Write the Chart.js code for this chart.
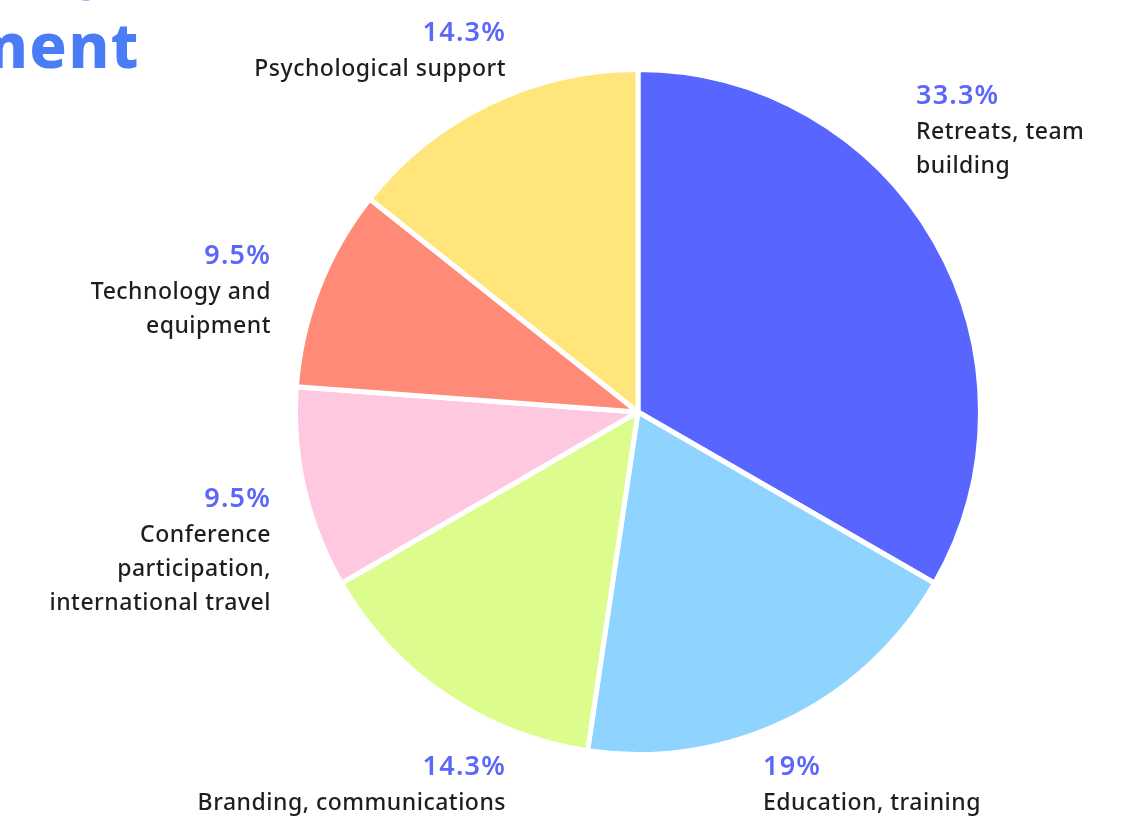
<!DOCTYPE html>
<html>
<head>
<meta charset="utf-8">
<script src="https://cdn.jsdelivr.net/npm/chart.js@4"></script>
<style>
  html, body { margin: 0; padding: 0; background: #fff; overflow: hidden; }
  #wrap { position: relative; width: 1128px; height: 816px; }
  #title { position: absolute; right: 988px; top: -58px; text-align: right; white-space: nowrap;
           font-family: "Noto Sans", sans-serif; font-weight: 800; font-size: 62px; line-height: 68px; color: #4a7cf6; letter-spacing: 1.5px; }
  canvas { position: absolute; left: 0; top: 0; }
</style>
</head>
<body>
<div id="wrap">
  <div id="title">Growth<br>Development</div>
  <canvas id="pieChart" width="1128" height="816"></canvas>
</div>
<script>
const categories = ["Retreats, team building", "Education, training", "Branding, communications",
    "Conference participation, international travel", "Technology and equipment", "Psychological support"];
const shares = [33.3, 19, 14.3, 9.5, 9.5, 14.3];
const percentLabels = ["33.3%", "19%", "14.3%", "9.5%", "9.5%", "14.3%"];
const labelLines = [
    ["Retreats, team", "building"],
    ["Education, training"],
    ["Branding, communications"],
    ["Conference", "participation,", "international travel"],
    ["Technology and", "equipment"],
    ["Psychological support"]
];
const sliceColors = ["#5865fe", "#8fd4fe", "#dcfc8d", "#fec8e1", "#ff8a77", "#ffe57a"];

// where each label block sits (x, y of the percent line, alignment)
const labelSpots = [
    { x: 916, y: 96, align: "left" },
    { x: 763, y: 767, align: "left" },
    { x: 506, y: 767, align: "right" },
    { x: 271, y: 499, align: "right" },
    { x: 271, y: 256, align: "right" },
    { x: 506, y: 33, align: "right" }
];

const sliceLabels = {
    id: "sliceLabels",
    afterDraw(chart) {
        const ctx = chart.ctx;
        ctx.save();
        ctx.textBaseline = "middle";
        labelSpots.forEach((spot, i) => {
            ctx.textAlign = spot.align;
            ctx.fillStyle = "#5b67fb";
            ctx.font = "600 27px 'Noto Sans', sans-serif";
            ctx.letterSpacing = "1.2px";
            ctx.fillText(percentLabels[i], spot.x, spot.y);
            ctx.fillStyle = "#1e1e1e";
            ctx.font = "500 23px 'Noto Sans', sans-serif";
            ctx.letterSpacing = "0.5px";
            labelLines[i].forEach((line, j) => {
                ctx.fillText(line, spot.x, spot.y + 36 + j * 34);
            });
        });
        ctx.restore();
    }
};

new Chart(document.getElementById("pieChart").getContext("2d"), {
    type: "pie",
    data: {
        labels: categories,
        datasets: [{
            data: shares,
            backgroundColor: sliceColors,
            borderColor: "#ffffff",
            borderWidth: 5
        }]
    },
    options: {
        responsive: false,
        animation: false,
        layout: { padding: { left: 293, right: 145, top: 67, bottom: 59 } },
        plugins: {
            legend: { display: false },
            tooltip: { enabled: false }
        }
    },
    plugins: [sliceLabels]
});
</script>
</body>
</html>
